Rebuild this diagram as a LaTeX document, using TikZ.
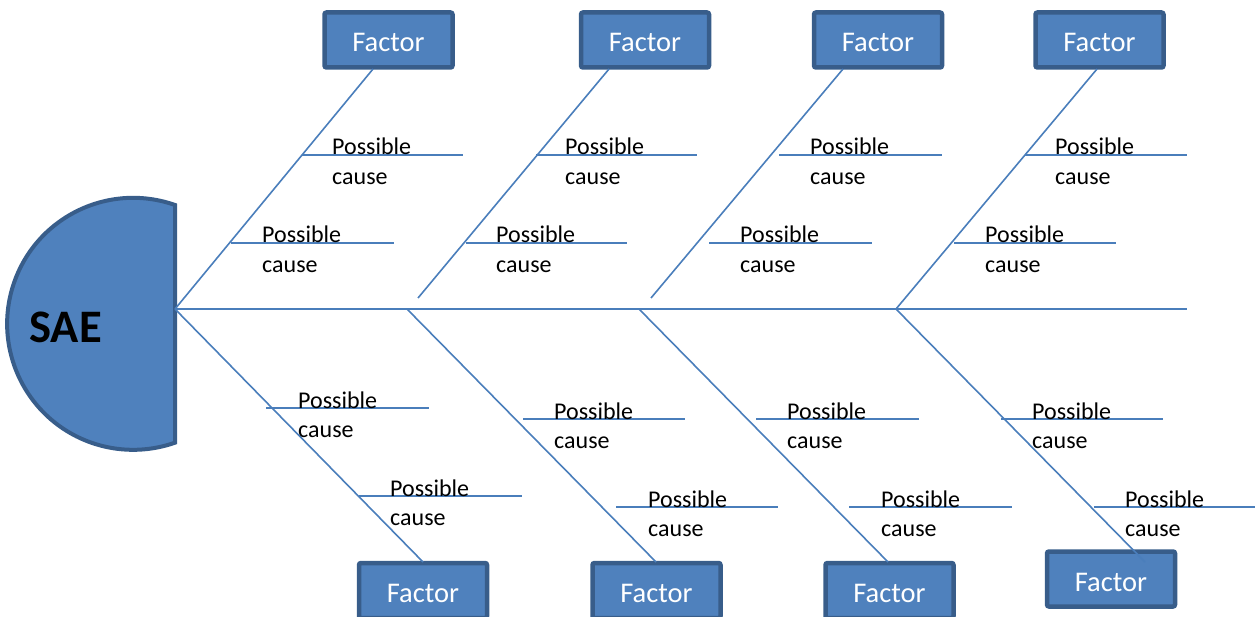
\documentclass[tikz,border=0pt]{standalone}
\usepackage{fontspec}
\setmainfont{Carlito}
\definecolor{boxfill}{HTML}{4F81BD}
\definecolor{boxdraw}{HTML}{385D8A}
\definecolor{bone}{HTML}{4A7EBB}
\begin{document}
\begin{tikzpicture}[x=1pt,y=-1pt,
  factorbox/.style={draw=boxdraw,fill=boxfill,line width=4.5pt,rounded corners=2pt,
    minimum width=128pt,minimum height=55pt,inner sep=0pt,text=white,
    font=\fontsize{28.5}{34}\selectfont,text height=24pt,text depth=0pt},
  boneline/.style={draw=bone,line width=1.6pt},
  causetext/.style={anchor=base west,align=left,inner sep=0pt,text=black,
    font=\fontsize{24}{29.3}\selectfont}]
\useasboundingbox (0,0) rectangle (1255,617);
% head
\draw[fill=boxfill,draw=boxdraw,line width=4pt] (175,205) arc[start angle=-70.6,end angle=-289.4,radius=126] -- cycle;
\node[font=\bfseries\fontsize{46.6}{50}\selectfont,anchor=base] (sae) at (65.5,343) {SAE};
% factor boxes
\node[factorbox] (t1) at (388.5,40) {Factor};
\node[factorbox] (t2) at (645,40) {Factor};
\node[factorbox] (t3) at (878,40) {Factor};
\node[factorbox] (t4) at (1099.5,40) {Factor};
\node[factorbox] (b1) at (423,590.5) {Factor};
\node[factorbox] (b2) at (656.5,590.5) {Factor};
\node[factorbox] (b3) at (889.5,590.5) {Factor};
\node[factorbox] (b4) at (1111,579) {Factor};
% junctions and ends
\coordinate (j1) at (175,309);
\coordinate (j2) at (407,309);
\coordinate (j3) at (639,309);
\coordinate (j4) at (896,309);
\coordinate (tail) at (1187,309);
\coordinate (u2) at (418,298);
\coordinate (u3) at (651,298);
\coordinate (t1e) at (373,69);
\coordinate (t2e) at (609,69);
\coordinate (t3e) at (843,69);
\coordinate (t4e) at (1097,69);
\coordinate (b1e) at (423,562);
\coordinate (b2e) at (656,562);
\coordinate (b3e) at (888,562);
\coordinate (b4e) at (1145,562);
% spine and bones
\draw[boneline] (j1) -- (tail);
\draw[boneline] (j1) -- (t1e);
\draw[boneline] (u2) -- (t2e);
\draw[boneline] (u3) -- (t3e);
\draw[boneline] (j4) -- (t4e);
\draw[boneline] (j1) -- (b1e);
\draw[boneline] (j2) -- (b2e);
\draw[boneline] (j3) -- (b3e);
\draw[boneline] (j4) -- (b4e);
% cause lines and labels
\foreach \a/\b/\y/\t [count=\i] in {302/463/155/332, 231/394/243/262, 536/697/155/565, 466/627/243/496,
  779/942/155/810, 709/872/243/740, 1025/1187/155/1055, 954/1116/243/985,
  266/429/408/298, 359/522/496/390, 523/685/419/554, 616/778/507/648,
  756/919/419/787, 849/1012/507/881, 1001/1163/419/1032, 1094/1255/507/1125}{
  \coordinate (cs\i) at (\a,\y);
  \coordinate (ce\i) at (\b,\y);
  \draw[boneline] (cs\i) -- (ce\i);
  \node[causetext] (c\i) at (\t,\y+29.3) {Possible\\cause};
}
\end{tikzpicture}
\end{document}
